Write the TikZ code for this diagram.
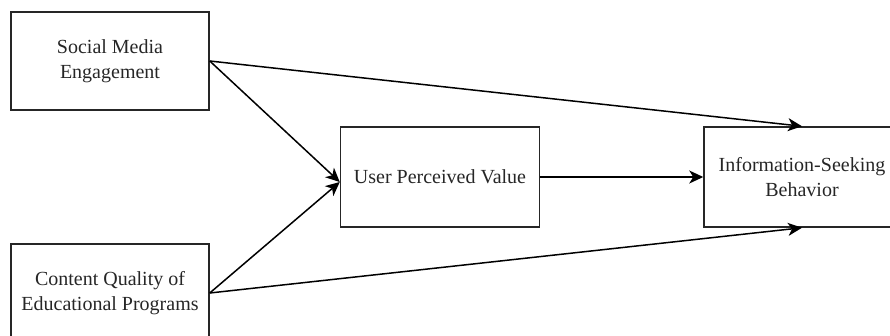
\documentclass[tikz,border=0pt]{standalone}
\usepackage{fontspec}
\setmainfont{Liberation Serif}
\usetikzlibrary{arrows.meta}
\begin{document}
\begin{tikzpicture}[x=1pt,y=-1pt,
  box/.style={draw=black!85,line width=1.5pt,rectangle,align=center,
    font=\fontsize{20}{25}\selectfont,text=black!85,inner sep=0pt},
  conn/.style={draw=black,line width=1.5pt,-{Stealth[length=14pt,width=13pt,inset=4pt]}}]
\useasboundingbox (0,0) rectangle (890,335);
\clip (0,0) rectangle (890,335);
\node[box,minimum width=198,minimum height=98] (sme) at (110,61) {Social Media\\Engagement};
\node[box,minimum width=198,minimum height=98] (cq) at (110,293) {Content Quality of\\Educational Programs};
\node[box,minimum width=199,minimum height=100] (upv) at (440,177) {User Perceived Value};
\node[box,minimum width=196,minimum height=100] (isb) at (802,177) {Information-Seeking\\Behavior};
\draw[conn] (sme.east) -- ([yshift=-5]upv.west);
\draw[conn] (cq.east) -- ([yshift=-5]upv.west);
\draw[conn] (sme.east) -- (isb.north);
\draw[conn] (cq.east) -- (isb.south);
\draw[conn] (upv.east) -- (isb.west);
\end{tikzpicture}
\end{document}
